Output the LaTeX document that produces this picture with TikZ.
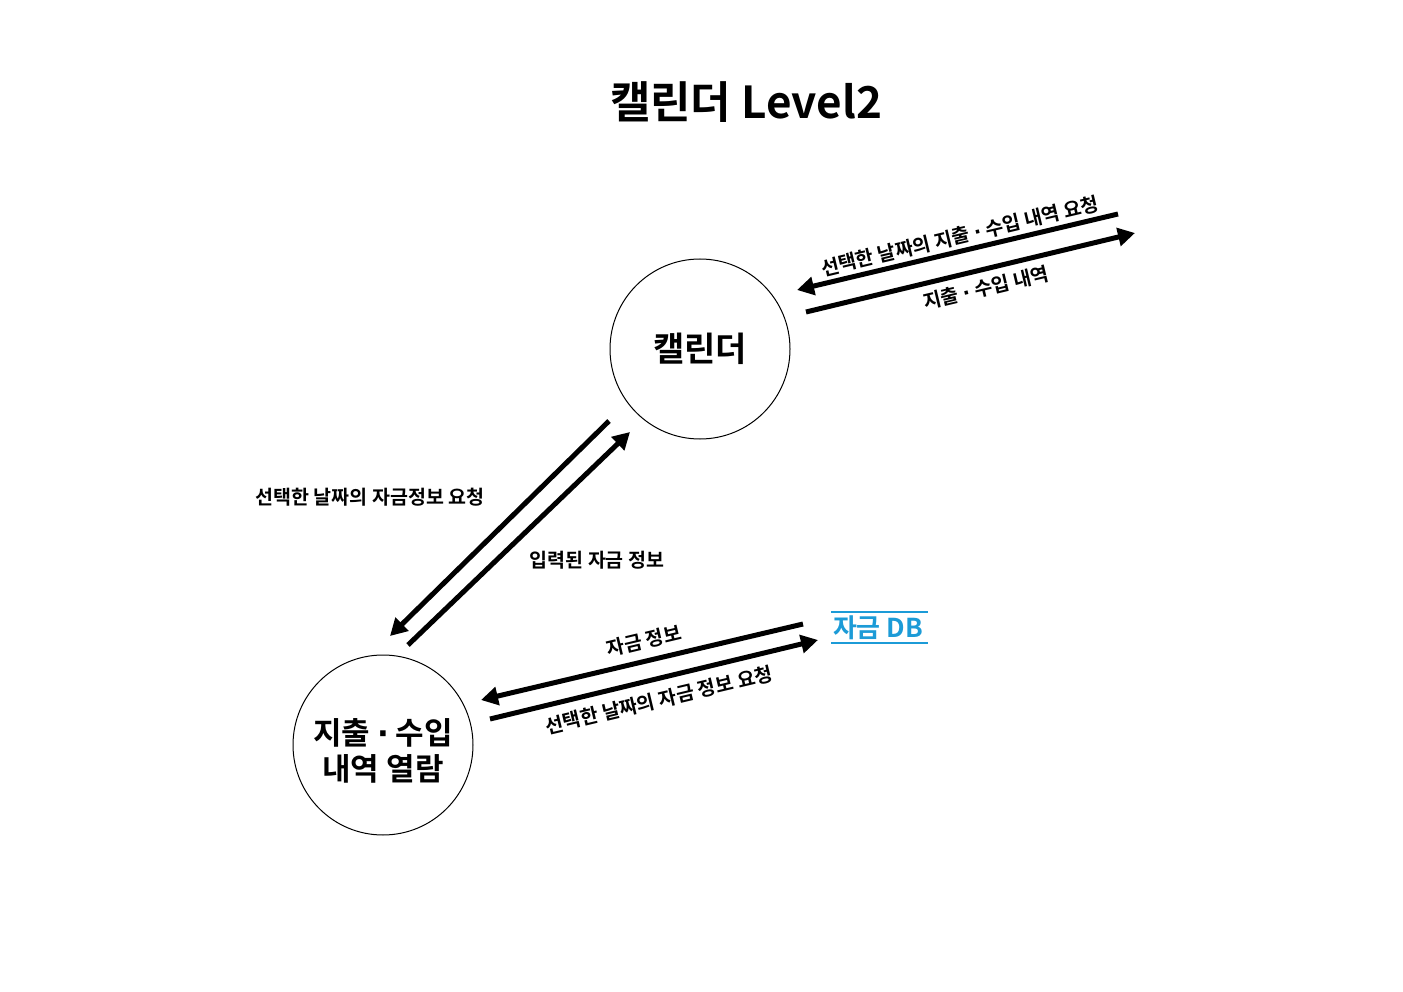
\documentclass[tikz,border=0pt]{standalone}
\usepackage{fontspec}
\setmainfont{Noto Sans CJK KR}[BoldFont={Noto Sans CJK KR Bold}]
\newfontfamily\dotfont{DejaVu Sans}
\newcommand{\md}{{\dotfont\bfseries ·}}
\usetikzlibrary{arrows.meta}
\definecolor{dbblue}{RGB}{28,155,215}
\tikzset{
  proc/.style={circle,draw=black,line width=1pt,minimum size=180pt,inner sep=0pt,align=center,font=\bfseries\fontsize{34}{38}\selectfont},
  flow/.style={line width=5pt,-{Triangle[length=17pt,width=18pt]}},
  flowlbl/.style={font=\bfseries\fontsize{19.5}{22}\selectfont,inner sep=1pt}
}
\begin{document}
\begin{tikzpicture}[x=1pt,y=-1pt]
\useasboundingbox[fill=white] (0,0) rectangle (1403,992);
\node[font=\bfseries\fontsize{44}{50}\selectfont] (title) at (746,102) {캘린더 Level2};
\node[proc] (cal) at (700,349) {캘린더};
\node[proc] (view) at (383,745) {};
\node[align=center,font=\bfseries\fontsize{31}{36}\selectfont,inner sep=0pt] (viewtxt) at (383,751) {지출 \md{} 수입\\내역 열람};
% DB
\node[font=\bfseries\fontsize{26}{30}\selectfont,text=dbblue,inner sep=0pt] (db) at (878,628) {자금 DB};
\draw[dbblue,line width=1.5pt] (831,612) -- (928,612);
\draw[dbblue,line width=1.5pt] (831,643) -- (928,643);
% coordinates
\coordinate (a1s) at (1118,214); \coordinate (a1e) at (797,290);
\coordinate (a2s) at (806,312);  \coordinate (a2e) at (1135,233);
\coordinate (b1s) at (609,421);  \coordinate (b1e) at (390,636);
\coordinate (b2s) at (408,645);  \coordinate (b2e) at (630,432);
\coordinate (c1s) at (803,624);  \coordinate (c1e) at (481,700);
\coordinate (c2s) at (490,719);  \coordinate (c2e) at (818,640);
\draw[flow] (a1s) -- (a1e);
\draw[flow] (a2s) -- (a2e);
\draw[flow] (b1s) -- (b1e);
\draw[flow] (b2s) -- (b2e);
\draw[flow] (c1s) -- (c1e);
\draw[flow] (c2s) -- (c2e);
% labels
\node[flowlbl,rotate=13.4] (l1) at (960,236) {선택한 날짜의 지출 \md{} 수입 내역 요청};
\node[flowlbl,rotate=13.4] (l2) at (986,288) {지출 \md{} 수입 내역};
\node[flowlbl] (l3) at (370,497) {선택한 날짜의 자금정보 요청};
\node[flowlbl] (l4) at (597,560) {입력된 자금 정보};
\node[flowlbl,rotate=13.4] (l5) at (644,641) {자금 정보};
\node[flowlbl,rotate=13.4] (l6) at (659,700) {선택한 날짜의 자금 정보 요청};
\end{tikzpicture}
\end{document}
